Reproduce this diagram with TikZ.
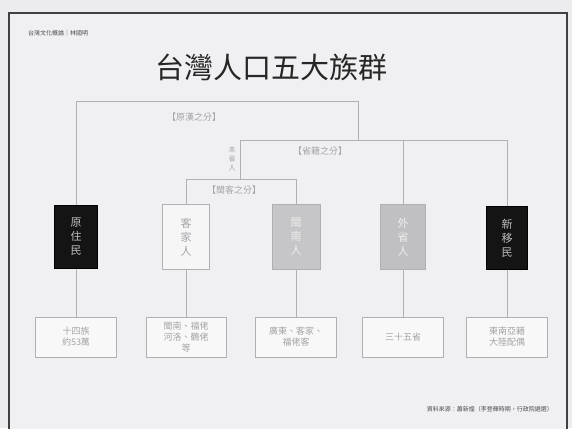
\documentclass[tikz,border=0pt]{standalone}
\usepackage{fontspec}
\setmainfont{Noto Sans CJK TC}
\newfontfamily\cjk{Noto Sans CJK TC}
\definecolor{bgc}{HTML}{ECECEE}
\definecolor{inner}{HTML}{F0F0F2}
\definecolor{linec}{HTML}{B0B0B4}
\definecolor{txtc}{HTML}{A4A4A8}
\definecolor{darkbox}{HTML}{141414}
\definecolor{midbox}{HTML}{C6C6C8}
\definecolor{midbox2}{HTML}{C0C0C2}
\tikzset{
  conn/.style={draw=linec, line width=1pt},
  grpbox/.style={draw=linec, line width=0.8pt, minimum width=46pt, minimum height=64pt, inner sep=0pt, font=\cjk\fontsize{11}{14}\selectfont, align=center},
  darkgrp/.style={grpbox, fill=darkbox, draw=black, text=white!75!black},
  lightgrp/.style={grpbox, fill=inner!60!white, text=txtc},
  midgrp/.style={grpbox, fill=midbox, text=white!70!midbox},
  infobox/.style={draw=linec, line width=1pt, minimum width=81pt, minimum height=40pt, inner sep=1pt, fill=inner!50!white, text=txtc, font=\cjk\fontsize{9}{11}\selectfont, align=center},
  lbl/.style={text=txtc, font=\cjk\fontsize{9}{11}\selectfont, inner sep=0pt}
}
\begin{document}
\begin{tikzpicture}[x=1pt,y=-1pt]
\useasboundingbox (0,0) rectangle (572,428);
\fill[bgc] (0,0) rectangle (572,428);
\fill[inner] (9,13) rectangle (567,432);
\draw[black!75, line width=1.6pt] (9,432) -- (9,13) -- (567,13) -- (567,432);

% header texts
\node[font=\cjk\fontsize{6}{7}\selectfont, text=black!70, anchor=west, inner sep=0pt] (hdr) at (28,33) {台灣文化概論｜林國明};
\node[font=\cjk\fontsize{29}{32}\selectfont, text=black!85, inner sep=0pt] (title) at (271,67) {台灣人口五大族群};

% group boxes
\node[darkgrp, minimum width=43pt, minimum height=63pt] (yz) at (76,237) {原\\住\\民};
\node[lightgrp, minimum width=47pt, minimum height=65pt] (kj) at (186,237) {客\\家\\人};
\node[midgrp, minimum width=48pt, minimum height=65pt] (mn) at (296,237) {閩\\南\\人};
\node[midgrp, fill=midbox2, minimum width=45pt, minimum height=65pt] (ws) at (403,237) {外\\省\\人};
\node[darkgrp, minimum width=41pt, minimum height=63pt] (xy) at (507,238) {新\\移\\民};

% info boxes
\node[infobox] (b1) at (76,337) {十四族\\約53萬};
\node[infobox, minimum width=80pt] (b2) at (186,337) {閩南、福佬\\河洛、鶴佬\\等};
\node[infobox] (b3) at (296,337) {廣東、客家、\\福佬客};
\node[infobox] (b4) at (403,337) {三十五省};
\node[infobox] (b5) at (507,337) {東南亞籍\\大陸配偶};

% connector coordinates
\coordinate (t1) at (358,101);
\coordinate (h1) at (358,140);
\coordinate (h2) at (240,140);
\coordinate (h3) at (240,179);

\draw[conn] (yz.north) |- (t1) -- (h1);
\draw[conn] (h2) -| (xy.north);
\draw[conn] (h2) -| (ws.north);
\draw[conn] (h2) -- (h3);
\draw[conn] (h3) -| (kj.north);
\draw[conn] (h3) -| (mn.north);

\draw[conn] (yz.south) -- (b1.north);
\draw[conn] (kj.south) -- (b2.north);
\draw[conn] (mn.south) -- (b3.north);
\draw[conn] (ws.south) -- (b4.north);
\draw[conn] (xy.south) -- (b5.north);

% labels
\node[lbl] (l1) at (194,117) {【原漢之分】};
\node[lbl] (l2) at (320,151) {【省籍之分】};
\node[lbl] (l3) at (234,190) {【閩客之分】};
\node[lbl, font=\cjk\fontsize{7}{9}\selectfont, align=center] (l4) at (232,159) {本\\省\\人};

% source
\node[font=\cjk\fontsize{6}{7}\selectfont, text=black!70, anchor=east, inner sep=0pt] (src) at (553,409) {資料來源：蕭新煌（李登輝時期，行政院遴選）};
\end{tikzpicture}
\end{document}
